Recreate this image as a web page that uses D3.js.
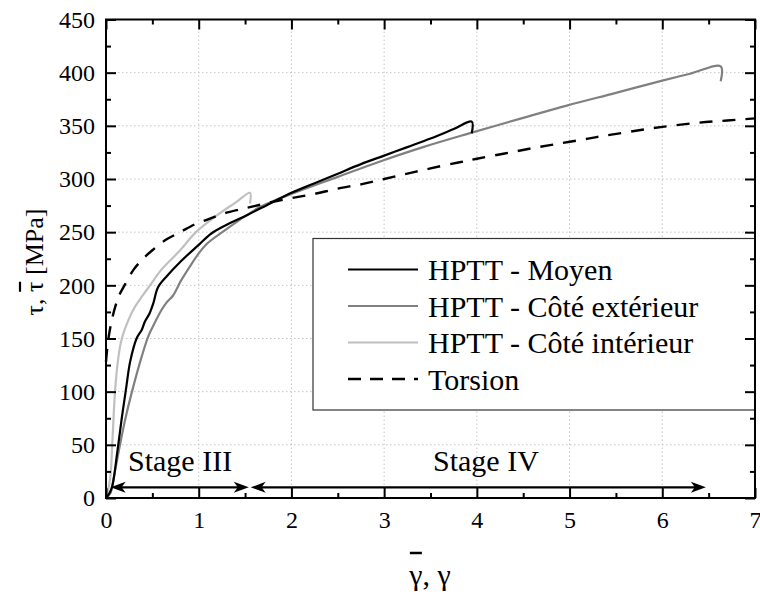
<!DOCTYPE html>
<html><head><meta charset="utf-8">
<script src="https://cdn.jsdelivr.net/npm/d3@7"></script>
<style>
body{margin:0;background:#fff}
svg{display:block}
</style></head>
<body><svg id="c" width="760" height="597"></svg>
<script>
// ---- data (γ, τ in MPa) ----
const moyen = [[0,0],[0.04,5],[0.07,12],[0.12,42],[0.17,75],[0.22,105],[0.26,128],[0.33,150],[0.385,158],[0.42,166],[0.467,173],[0.51,183],[0.56,198],[0.66,209],[0.8,222],[1.0,238],[1.14,249],[1.35,259],[1.52,266],[1.77,277],[2.0,287],[2.25,296],[2.5,305],[2.75,314],[3.0,322],[3.25,330],[3.5,338],[3.75,347],[3.945,354],[3.945,343]];
const exterieur = [[0,0],[0.05,5],[0.079,17],[0.14,45],[0.205,73],[0.295,105],[0.385,133],[0.456,152],[0.51,162],[0.6,177],[0.655,184],[0.72,190],[0.76,196],[0.8,203],[0.9,217],[1.0,230],[1.1,240],[1.27,251],[1.45,262],[1.625,272],[1.8,279],[2.0,286],[2.5,302],[2.956,316.5],[3.42,330],[3.945,343.6],[4.5,357.5],[4.97,369],[5.5,381],[6.0,392.5],[6.3,399],[6.63,406],[6.63,392]];
const interieur = [[0,0],[0.043,17],[0.07,55],[0.097,100],[0.13,130],[0.16,146],[0.2,158],[0.3,178],[0.4,191],[0.475,200],[0.6,215],[0.8,233],[0.97,250],[1.2,266],[1.4,278],[1.553,287],[1.553,277]];
const torsion = [[0,128],[0.02,146],[0.05,162],[0.1,180],[0.15,192],[0.2,200],[0.3,215],[0.4,225],[0.5,233],[0.65,243],[0.8,250],[0.95,257],[1.1,262],[1.25,267],[1.45,271.5],[1.6,274.5],[1.8,278.5],[2.0,282],[2.25,286],[2.5,291],[2.75,295],[3.0,300],[3.25,305],[3.5,310],[3.8,315.5],[4.0,319],[4.3,324],[4.6,329],[4.9,333.5],[5.2,338],[5.4,341],[5.8,346.5],[6.0,349],[6.4,353],[6.7,355],[7.0,357]];

const xTicks = [0,1,2,3,4,5,6,7];
const yTicks = [0,50,100,150,200,250,300,350,400,450];
const xMinor = [0.5,1.5,2.5,3.5,4.5,5.5,6.5];
const yMinor = [25,75,125,175,225,275,325,375,425];

const legendLabels = ["HPTT - Moyen","HPTT - Côté extérieur","HPTT - Côté intérieur","Torsion"];
const stages = [
  {label:"Stage III", from:0.05, to:1.54},
  {label:"Stage IV", from:1.56, to:6.47}
];
const stageLevel = 10; // MPa

// ---- pick an installed serif font (fallback: default) ----
const ctx = document.createElement("canvas").getContext("2d");
function w(font, s){ ctx.font = font; return ctx.measureText(s).width; }
const probe = "HPTT - Côté extérieur 0123456789 Stage";
const base1 = w("100px monospace", probe), base2 = w("100px sans-serif", probe);
const cands = ["Liberation Serif","DejaVu Serif","Noto Serif","Tinos","Times New Roman","Nimbus Roman","FreeSerif","Times","Georgia"];
let FAM = null;
for (const f of cands){
  if (w(`100px "${f}", monospace`, probe) !== base1 || w(`100px "${f}", sans-serif`, probe) !== base2){ FAM = f; break; }
}
const FONT = FAM ? `"${FAM}", serif` : "serif";
function fitSize(s, target, maxSize){
  const ww = w(`100px ${FONT}`, s);
  return Math.min(maxSize, 100*target/ww);
}
const legSize = fitSize("HPTT - Côté extérieur", 284, 30);
const stageSize = fitSize("Stage III", 107, 30);
const tickSize = fitSize("450", 36, 25);

// ---- layout ----
const svg = d3.select("#c");
const L=106, R=755, T=19.5, B=498;
const x = d3.scaleLinear([0,7],[L,R]);
const y = d3.scaleLinear([0,450],[B,T]);

// grid
const g = svg.append("g");
g.selectAll(".gx").data(xTicks.slice(1,-1)).join("line")
  .attr("x1",d=>x(d)).attr("x2",d=>x(d)).attr("y1",T).attr("y2",B)
  .attr("stroke","#c4c4c4").attr("stroke-width",1).attr("stroke-dasharray","1.5,2.5");
g.selectAll(".gy").data(yTicks.slice(1,-1)).join("line")
  .attr("y1",d=>y(d)).attr("y2",d=>y(d)).attr("x1",L).attr("x2",R)
  .attr("stroke","#c4c4c4").attr("stroke-width",1).attr("stroke-dasharray","1.5,2.5");

// legend box
const leg = svg.append("g");
leg.append("rect").attr("x",313).attr("y",238.5).attr("width",R-313).attr("height",171.5)
  .attr("fill","#fff").attr("stroke","#333").attr("stroke-width",1.2);

// curves
const line = d3.line().x(d=>x(d[0])).y(d=>y(d[1])).curve(d3.curveCatmullRom.alpha(0.5));
const series = [
  {data:interieur, color:"#c0c0c0", w:2.2, dash:null},
  {data:exterieur, color:"#808080", w:2.2, dash:null},
  {data:moyen, color:"#000", w:2.2, dash:null},
  {data:torsion, color:"#000", w:2.4, dash:"13,10"}
];
svg.append("g").selectAll("path").data(series).join("path")
  .attr("d",d=>line(d.data)).attr("fill","none")
  .attr("stroke",d=>d.color).attr("stroke-width",d=>d.w)
  .attr("stroke-dasharray",d=>d.dash).attr("stroke-linejoin","round");

// legend entries
const legOrder = [series[2],series[1],series[0],series[3]];
legendLabels.forEach((lab,i)=>{
  const cy = 269.5 + i*36.5;
  leg.append("line").attr("x1",348).attr("x2",418).attr("y1",cy).attr("y2",cy)
    .attr("stroke",legOrder[i].color).attr("stroke-width",legOrder[i].w)
    .attr("stroke-dasharray",legOrder[i].dash ? "13,9" : null);
  leg.append("text").attr("x",428).attr("y",cy+10.5).attr("font-size",legSize)
    .attr("font-family",FONT).attr("fill","#000").text(lab);
});

// axes
const axG = svg.append("g");
function styleAxis(sel){
  sel.attr("font-family",FONT);
  sel.select(".domain").remove();
  sel.selectAll(".tick line").attr("stroke","#000").attr("stroke-width",2);
  sel.selectAll("text").attr("font-size",tickSize).attr("font-family",FONT).attr("fill","#000");
}
axG.append("g").attr("transform",`translate(0,${B})`)
  .call(d3.axisBottom(x).tickValues(xTicks).tickSize(-10).tickPadding(13).tickFormat(d3.format("d")))
  .call(styleAxis);
axG.append("g").attr("transform",`translate(0,${B})`)
  .call(d3.axisBottom(x).tickValues(xMinor).tickSize(-5).tickFormat(""))
  .call(styleAxis);
axG.append("g").attr("transform",`translate(0,${T})`)
  .call(d3.axisTop(x).tickValues(xTicks).tickSize(-10).tickFormat("")).call(styleAxis);
axG.append("g").attr("transform",`translate(0,${T})`)
  .call(d3.axisTop(x).tickValues(xMinor).tickSize(-5).tickFormat("")).call(styleAxis);
axG.append("g").attr("transform",`translate(${L},0)`)
  .call(d3.axisLeft(y).tickValues(yTicks).tickSize(-10).tickPadding(11).tickFormat(d3.format("d")))
  .call(styleAxis);
axG.append("g").attr("transform",`translate(${L},0)`)
  .call(d3.axisLeft(y).tickValues(yMinor).tickSize(-5).tickFormat("")).call(styleAxis);
axG.append("g").attr("transform",`translate(${R},0)`)
  .call(d3.axisRight(y).tickValues(yTicks).tickSize(-10).tickFormat("")).call(styleAxis);
axG.append("g").attr("transform",`translate(${R},0)`)
  .call(d3.axisRight(y).tickValues(yMinor).tickSize(-5).tickFormat("")).call(styleAxis);
axG.append("rect").attr("x",L).attr("y",T).attr("width",R-L).attr("height",B-T)
  .attr("fill","none").attr("stroke","#000").attr("stroke-width",2);

// stage arrows
const defs = svg.append("defs");
defs.append("marker").attr("id","ah").attr("markerUnits","userSpaceOnUse")
  .attr("viewBox","-16 -7 18 14").attr("markerWidth",18).attr("markerHeight",14)
  .attr("refX",-8).attr("refY",0).attr("orient","auto-start-reverse")
  .append("path").attr("d","M0,0 L-15,-5.5 L-11,0 L-15,5.5 Z").attr("fill","#000");
const sy = y(stageLevel);
svg.append("g").selectAll("line").data(stages).join("line")
  .attr("x1",d=>x(d.from)+8).attr("x2",d=>x(d.to)-8).attr("y1",sy).attr("y2",sy)
  .attr("stroke","#000").attr("stroke-width",2.4)
  .attr("marker-start","url(#ah)").attr("marker-end","url(#ah)");
const stageTextX = [128, 433];
svg.append("g").selectAll("text").data(stages).join("text")
  .attr("x",(d,i)=>stageTextX[i]).attr("y",471).attr("font-size",stageSize)
  .attr("font-family",FONT).attr("fill","#000").text(d=>d.label);

// axis titles (bar accents drawn over the barred symbol)
const xt = svg.append("text").attr("x",430).attr("y",585).attr("text-anchor","middle")
  .attr("font-size",30).attr("font-family",FONT).attr("fill","#000").text("γ, γ");
const e0 = xt.node().getExtentOfChar(0);
svg.append("line").attr("x1",e0.x+e0.width/2-6).attr("x2",e0.x+e0.width/2+6)
  .attr("y1",553).attr("y2",553).attr("stroke","#000").attr("stroke-width",2.5);

const yt = svg.append("text").attr("transform","translate(43,262) rotate(-90)").attr("text-anchor","middle")
  .attr("font-size",26).attr("font-family",FONT).attr("fill","#000").text("τ, τ [MPa]");
const e3 = yt.node().getExtentOfChar(3);
const cx3 = e3.x + e3.width/2;
svg.append("line").attr("transform","translate(43,262) rotate(-90)")
  .attr("x1",cx3-5).attr("x2",cx3+5).attr("y1",-23).attr("y2",-23)
  .attr("stroke","#000").attr("stroke-width",2.2);
</script></body></html>
